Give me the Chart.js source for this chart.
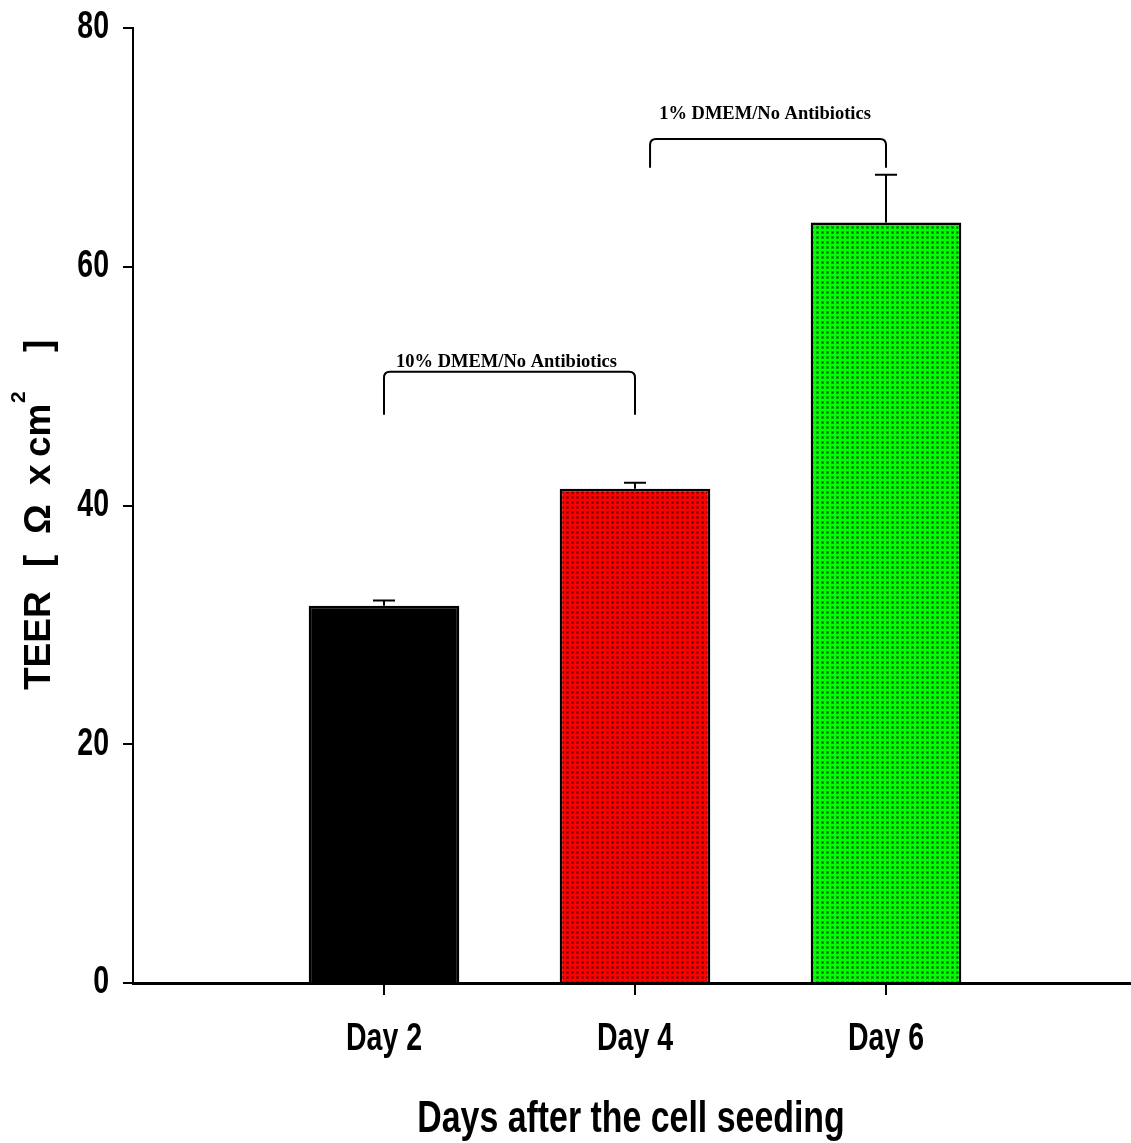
<!DOCTYPE html>
<html>
<head>
<meta charset="utf-8">
<script src="https://cdn.jsdelivr.net/npm/chart.js@4.4.1/dist/chart.umd.min.js"></script>
<style>
  html, body { margin: 0; padding: 0; background: #fff; overflow: hidden; }
  #wrap { width: 1137px; height: 1143px; position: relative; }
</style>
</head>
<body>
<div id="wrap"><canvas id="teer"></canvas></div>
<script>
// TEER measurements after cell seeding (mean and SEM)
const days = ['Day 2', 'Day 4', 'Day 6'];
const dayIndex = [1, 2, 3];
const teerMean = [31.6, 41.4, 63.7];
const teerSem = [0.45, 0.5, 4.0];
const yTicks = [0, 20, 40, 60, 80];

// medium annotations: label, bracket span (x), top and end heights (y)
const noteLabels = ['10% DMEM/No Antibiotics', '1% DMEM/No Antibiotics'];
const noteFrom = [1, 2.06];
const noteTo = [2, 3];
const noteTop = [51.2, 70.7];
const noteEndLeft = [47.6, 68.3];
const noteEndRight = [47.6, 68.3];
const noteText = [52.0, 72.8];

const xTitle = 'Days after the cell seeding';
// y title pieces; the "2" is set as a superscript
const yTitleParts = ['TEER', '[', '\u03A9', 'x', 'cm', '2', ']'];

function dotted(base, dot) {
  const c = document.createElement('canvas');
  c.width = 5; c.height = 5;
  const g = c.getContext('2d');
  g.fillStyle = base; g.fillRect(0, 0, 5, 5);
  g.fillStyle = dot; g.globalAlpha = 0.4; g.fillRect(1, 1, 3, 3);
  g.globalAlpha = 0.85; g.fillRect(2, 2, 1, 1);
  return g.createPattern(c, 'repeat');
}
const ctx = document.getElementById('teer').getContext('2d');
const fills = ['#000000', dotted('#ff0000', '#400000'), dotted('#00ff00', '#003000')];

const sans = "'Liberation Sans', Arial, sans-serif";

// condensed bold text (narrow face emulated by horizontal scaling)
function narrowText(c, text, x, y, size, sx, align, baseline) {
  c.save();
  c.translate(x, y);
  c.scale(sx, 1);
  c.font = 'bold ' + size + 'px ' + sans;
  c.textAlign = align;
  c.textBaseline = baseline;
  c.fillText(text, 0, 0);
  c.restore();
}

const extras = {
  id: 'extras',
  afterDatasetsDraw(chart) {
    const c = chart.ctx, xs = chart.scales.x, ys = chart.scales.y, area = chart.chartArea;
    c.save();
    c.strokeStyle = '#000';
    c.fillStyle = '#000';
    c.lineWidth = 2;
    // error bars (upper only)
    teerMean.forEach((m, i) => {
      const x = xs.getPixelForValue(dayIndex[i]);
      const y0 = ys.getPixelForValue(m);
      const y1 = ys.getPixelForValue(m + teerSem[i]);
      c.beginPath();
      c.moveTo(x, y0); c.lineTo(x, y1);
      c.moveTo(x - 11, y1); c.lineTo(x + 11, y1);
      c.stroke();
    });
    // brackets with labels
    const r = 6;
    noteLabels.forEach((t, i) => {
      const xa = xs.getPixelForValue(noteFrom[i]);
      const xb = xs.getPixelForValue(noteTo[i]);
      const yt = ys.getPixelForValue(noteTop[i]);
      const ya = ys.getPixelForValue(noteEndLeft[i]);
      const yb = ys.getPixelForValue(noteEndRight[i]);
      c.beginPath();
      c.moveTo(xa, ya);
      c.lineTo(xa, yt + r);
      c.quadraticCurveTo(xa, yt, xa + r, yt);
      c.lineTo(xb - r, yt);
      c.quadraticCurveTo(xb, yt, xb, yt + r);
      c.lineTo(xb, yb);
      c.stroke();
      c.font = "bold 18.5px 'Liberation Serif', 'Times New Roman', serif";
      c.textAlign = 'center';
      c.textBaseline = 'middle';
      c.fillText(t, (xa + xb) / 2 - 3, ys.getPixelForValue(noteText[i]));
    });
    // tick labels
    yTicks.forEach(v => narrowText(c, String(v), area.left - 24, ys.getPixelForValue(v), 38, 0.75, 'right', 'middle'));
    dayIndex.forEach((v, i) => narrowText(c, days[i], xs.getPixelForValue(v), area.bottom + 67, 38, 0.75, 'center', 'alphabetic'));
    // axis titles
    narrowText(c, xTitle, (area.left + area.right) / 2 - 4, area.bottom + 149, 44, 0.77, 'center', 'alphabetic');

    // rotated y title, spread out along the axis
    c.save();
    c.translate(50, 690);
    c.rotate(-Math.PI / 2);
    c.textAlign = 'left';
    c.textBaseline = 'alphabetic';
    const starts = [0, 123, 156, 205, 233, 287, 338];
    yTitleParts.forEach((p, i) => {
      const sup = i === 5;
      c.font = 'bold ' + (sup ? 21 : 37) + 'px ' + sans;
      c.fillText(p, starts[i], sup ? -25 : 0);
    });
    c.restore();

    c.restore();
  }
};

new Chart(ctx, {
  type: 'bar',
  data: {
    datasets: [{
      data: dayIndex.map((x, i) => ({ x, y: teerMean[i] })),
      backgroundColor: fills,
      borderColor: '#000',
      borderWidth: 2.5,
      borderSkipped: 'bottom',
      barPercentage: 0.6,
      categoryPercentage: 1.0
    }]
  },
  options: {
    responsive: true,
    maintainAspectRatio: false,
    animation: false,
    layout: { padding: { top: 28, left: 0, right: 0, bottom: 0 } },
    plugins: { legend: { display: false }, tooltip: { enabled: false } },
    scales: {
      x: {
        type: 'linear',
        min: 0, max: 4,
        offset: false,
        afterFit(s) { s.height = 160; },
        afterBuildTicks(s) { s.ticks = dayIndex.map(v => ({ value: v })); },
        ticks: { display: false },
        grid: { display: true, offset: false, drawOnChartArea: false, drawTicks: true, tickLength: 12, color: '#000', lineWidth: 2 },
        border: { display: true, color: '#000', width: 3 }
      },
      y: {
        min: 0, max: 80,
        afterFit(s) { s.width = 133; },
        afterBuildTicks(s) { s.ticks = yTicks.map(v => ({ value: v })); },
        ticks: { display: false },
        grid: { display: true, drawOnChartArea: false, drawTicks: true, tickLength: 10, color: '#000', lineWidth: 2 },
        border: { display: true, color: '#000', width: 2 }
      }
    }
  },
  plugins: [extras]
});
</script>
</body>
</html>
